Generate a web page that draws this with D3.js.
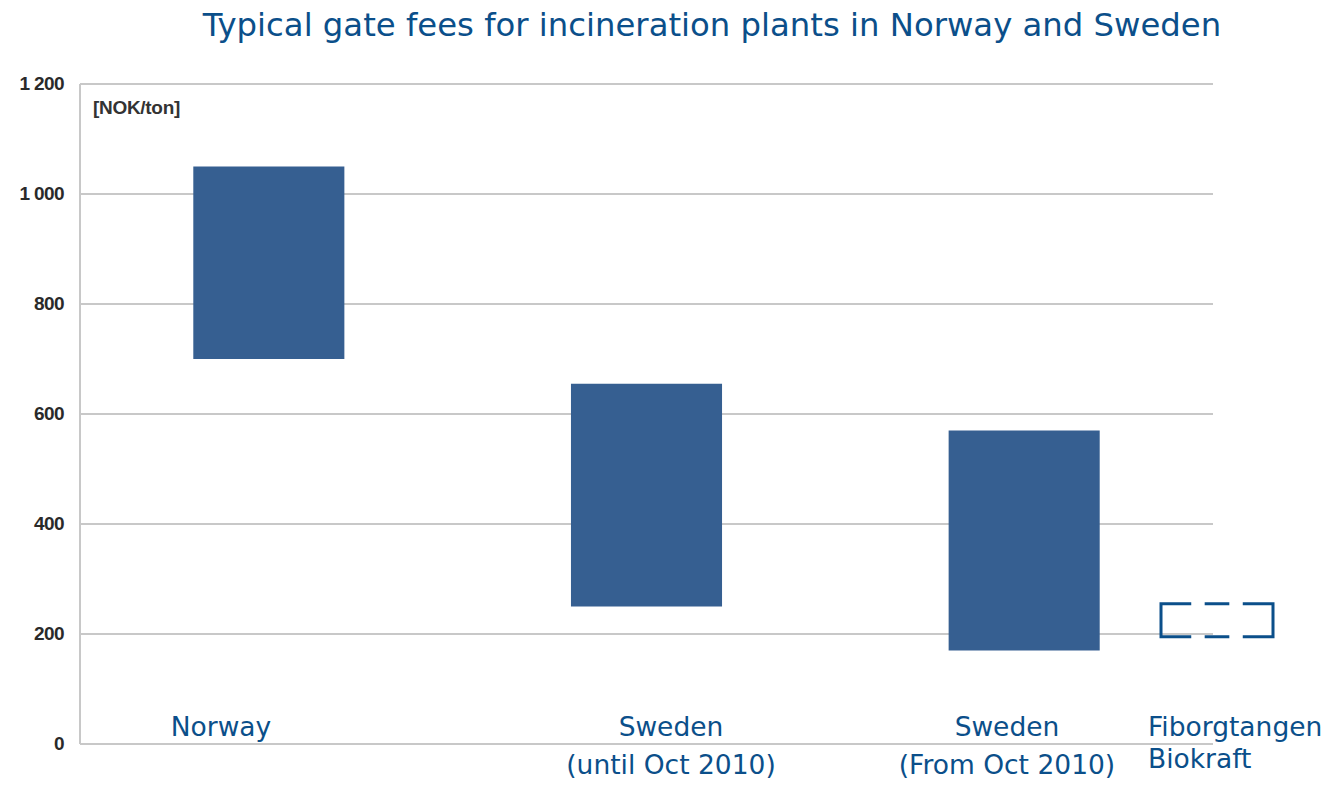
<!DOCTYPE html>
<html lang="en">
<head>
    <meta charset="UTF-8">
    <title>Gate fees</title>
    <script src="https://cdnjs.cloudflare.com/ajax/libs/d3/7.8.5/d3.min.js"></script>
    <style>
        body { margin: 0; background: #ffffff; }
    </style>
</head>
<body>
    <div id="chart"></div>
    <script>
        // data
        let categories = ['Norway', 'Sweden (until Oct 2010)', 'Sweden (From Oct 2010)'];
        let labelLines = [['Norway'], ['Sweden', '(until Oct 2010)'], ['Sweden', '(From Oct 2010)']];
        let lowValues = [700, 250, 170];
        let highValues = [1050, 655, 570];

        let extraName = ['Fiborgtangen', 'Biokraft'];
        let extraRange = [195, 255];

        let yTicks = [0, 200, 400, 600, 800, 1000, 1200];
        let unitLabel = '[NOK/ton]';
        let title = 'Typical gate fees for incineration plants in Norway and Sweden';

        let width = 1328;
        let height = 788;
        let blue = '#0b4f8a';

        let svg = d3.select('#chart')
            .append('svg')
            .attr('width', width)
            .attr('height', height);

        //scales
        let y = d3.scaleLinear().domain([0, 1200]).range([744, 84]);
        let x = d3.scaleBand().domain(categories).range([80, 1213]).paddingInner(0.6).paddingOuter(0.3);

        //gridlines
        svg.append('g')
            .selectAll('line')
            .data(yTicks)
            .join('line')
            .attr('x1', 80)
            .attr('x2', 1213)
            .attr('y1', d => y(d))
            .attr('y2', d => y(d))
            .attr('stroke', '#c8c8c8')
            .attr('stroke-width', 2);

        //left axis line
        svg.append('line')
            .attr('x1', 80).attr('x2', 80)
            .attr('y1', y(1200)).attr('y2', y(0))
            .attr('stroke', '#c8c8c8')
            .attr('stroke-width', 2);

        //tick labels
        svg.append('g')
            .selectAll('text')
            .data(yTicks)
            .join('text')
            .attr('x', 64)
            .attr('y', d => y(d) + 6)
            .attr('text-anchor', 'end')
            .attr('font-family', 'Liberation Sans, Arial, sans-serif')
            .attr('font-weight', 'bold')
            .attr('font-size', 19)
            .attr('letter-spacing', -0.6)
            .attr('fill', '#2a2a2a')
            .text(d => d3.format(',')(d).replace(',', ' '));

        svg.append('text')
            .attr('x', 93)
            .attr('y', 114)
            .attr('font-family', 'Liberation Sans, Arial, sans-serif')
            .attr('font-weight', 'bold')
            .attr('font-size', 19)
            .attr('letter-spacing', -0.3)
            .attr('fill', '#333333')
            .text(unitLabel);

        //floating bars
        svg.append('g')
            .selectAll('rect')
            .data(categories)
            .join('rect')
            .attr('x', d => x(d))
            .attr('width', x.bandwidth())
            .attr('y', (d, i) => y(highValues[i]))
            .attr('height', (d, i) => y(lowValues[i]) - y(highValues[i]))
            .attr('fill', '#365f91');

        //dashed box for Fiborgtangen
        let bx = 1161, bw = 112;
        let bTop = y(extraRange[1]), bH = y(extraRange[0]) - y(extraRange[1]);
        let dash = bw * 0.27, gap = bw * 0.12, mid = bw - 2 * dash - 2 * gap;
        svg.append('rect')
            .attr('x', bx)
            .attr('y', bTop)
            .attr('width', bw)
            .attr('height', bH)
            .attr('fill', 'none')
            .attr('stroke', blue)
            .attr('stroke-width', 3)
            .attr('stroke-dasharray', [dash, gap, mid, gap, dash + bH + dash, gap, mid, gap, dash + bH].join(','));

        //category labels
        let labelCenters = [221, 671, 1007];
        labelLines.forEach((lines, i) => {
            lines.forEach((t, j) => {
                svg.append('text')
                    .attr('x', labelCenters[i])
                    .attr('y', 736 + j * 38)
                    .attr('text-anchor', 'middle')
                    .attr('font-family', 'DejaVu Sans, Verdana, sans-serif')
                    .attr('font-size', 26.5)
                    .attr('fill', blue)
                    .text(t);
            });
        });

        extraName.forEach((t, j) => {
            svg.append('text')
                .attr('x', 1148)
                .attr('y', 736 + j * 32)
                .attr('font-family', 'DejaVu Sans, Verdana, sans-serif')
                .attr('font-size', 26.5)
                .attr('fill', blue)
                .text(t);
        });

        //title
        svg.append('text')
            .attr('x', 712)
            .attr('y', 36)
            .attr('text-anchor', 'middle')
            .attr('font-family', 'DejaVu Sans, Verdana, sans-serif')
            .attr('font-size', 32.3)
            .attr('fill', blue)
            .text(title);
    </script>
</body>
</html>
